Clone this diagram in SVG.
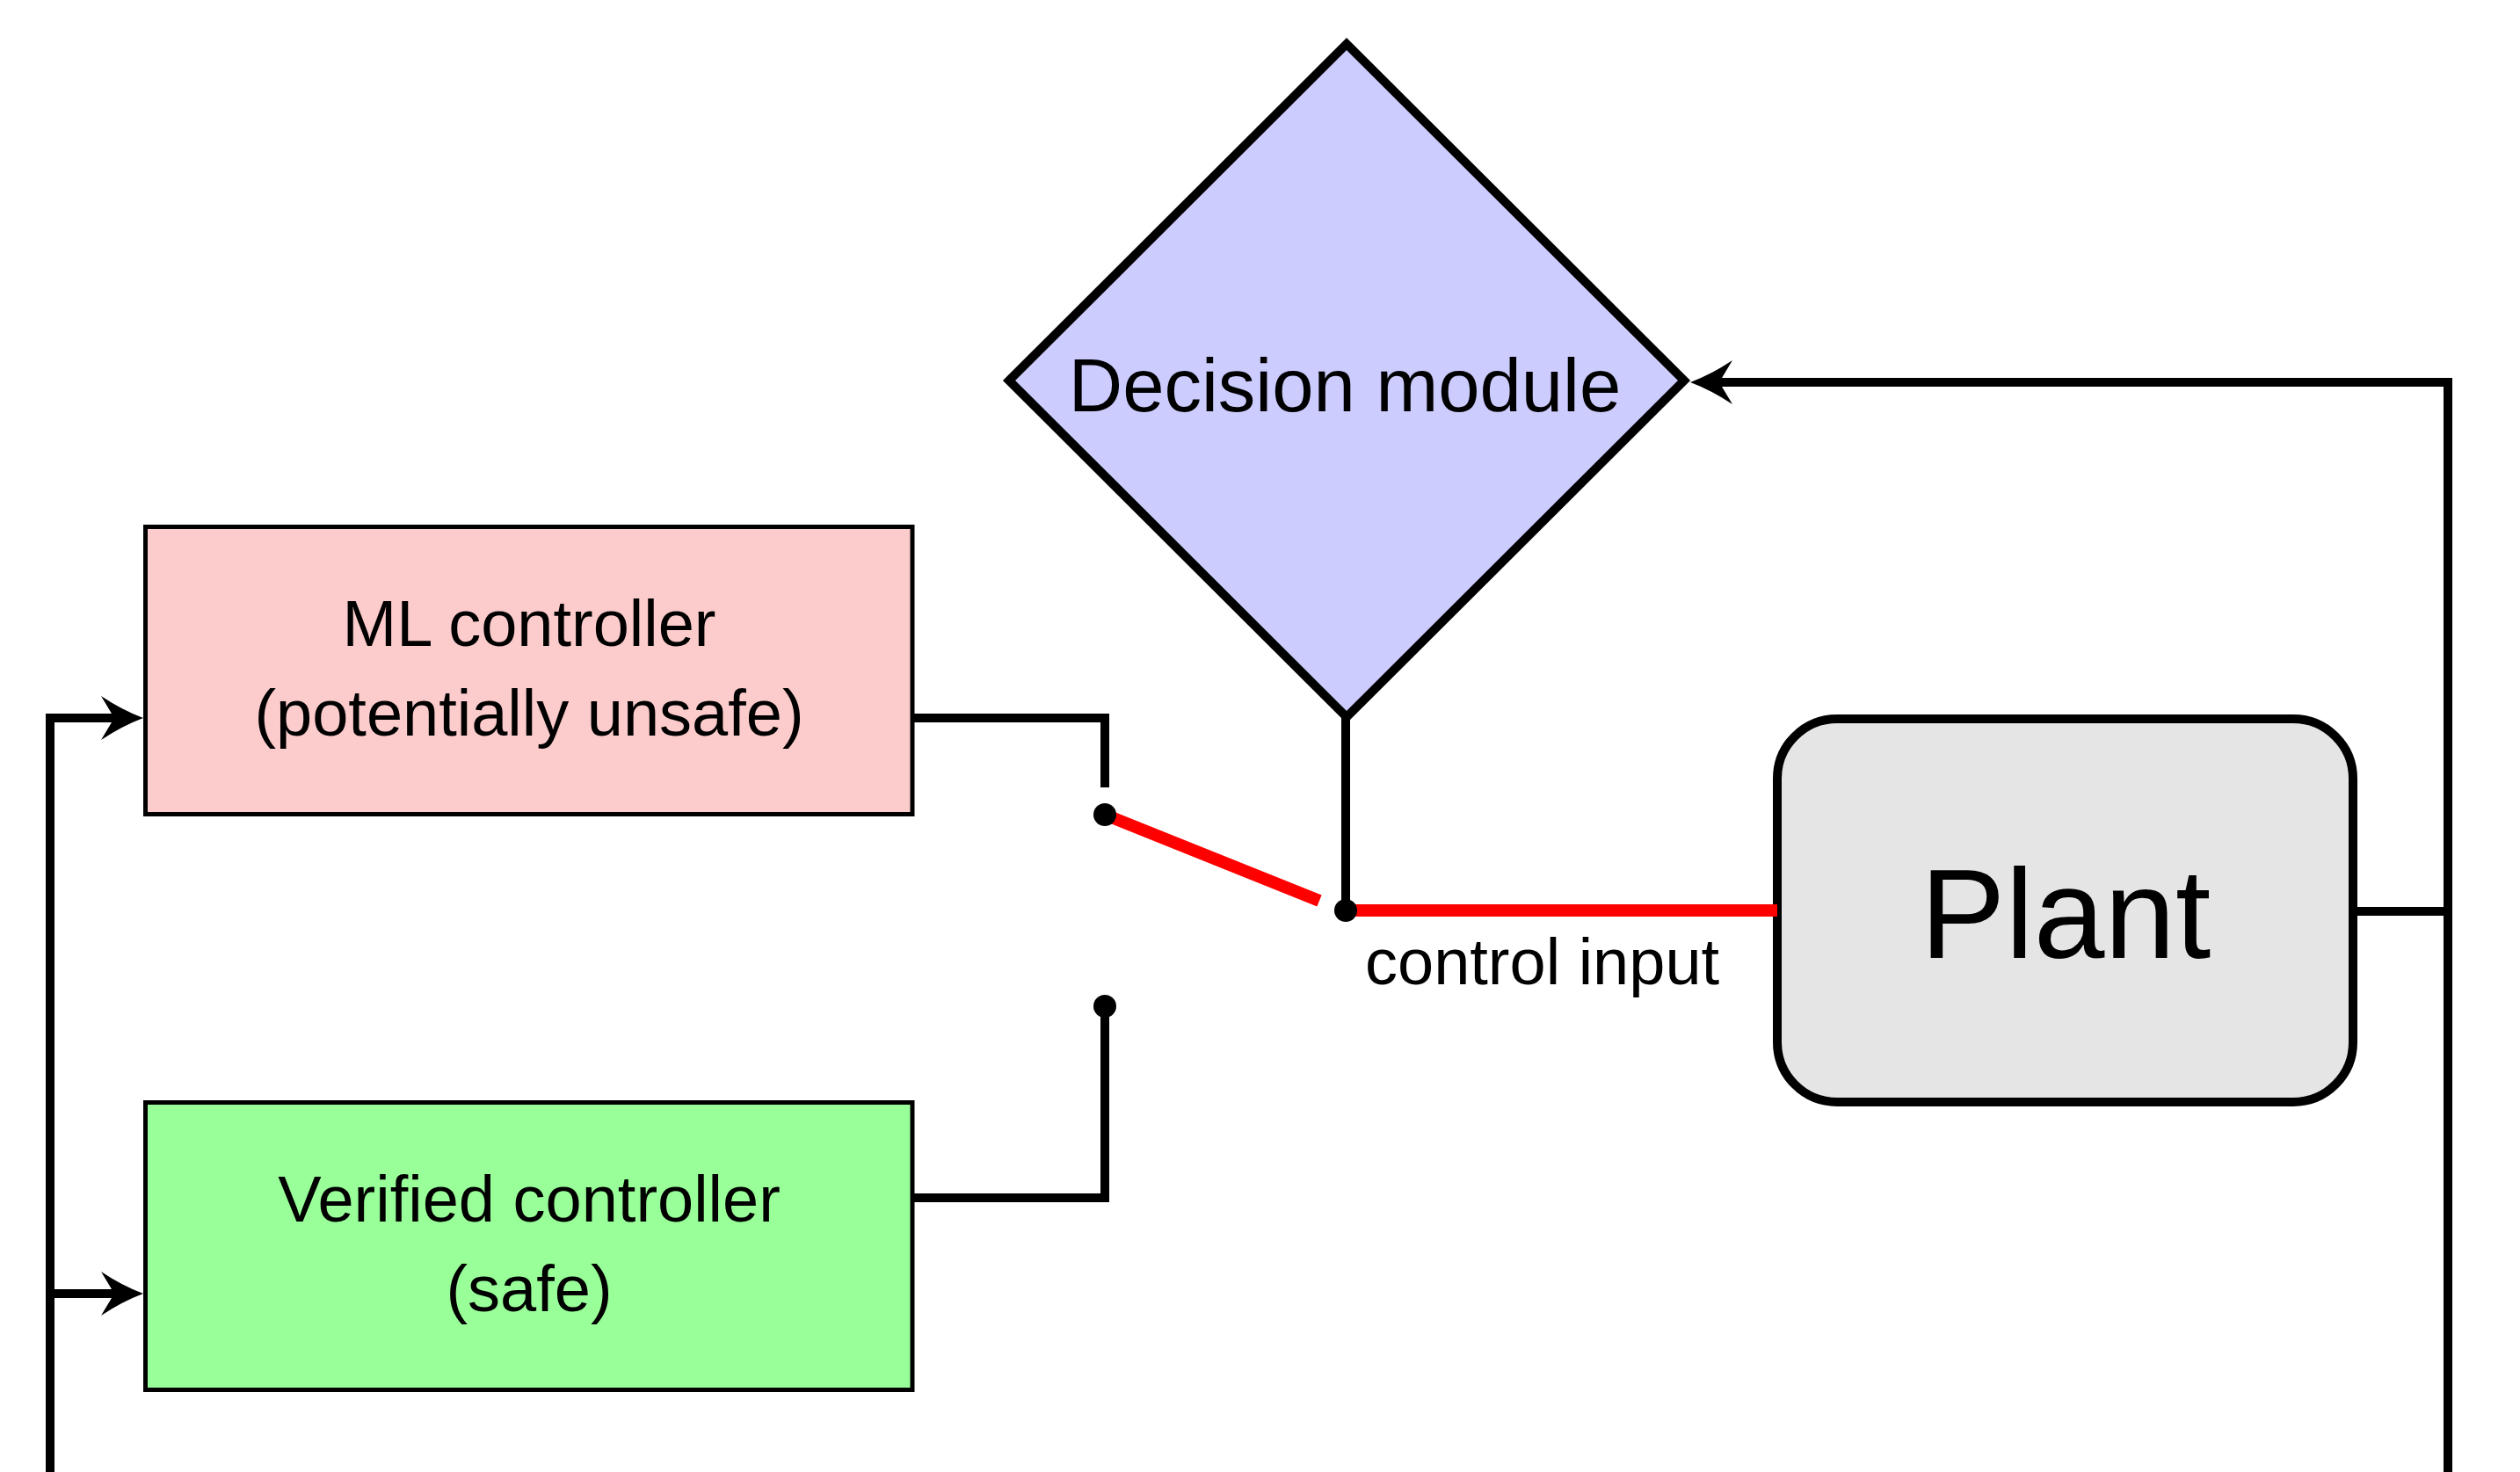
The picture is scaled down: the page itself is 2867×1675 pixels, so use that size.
<svg xmlns="http://www.w3.org/2000/svg" width="2867" height="1675" viewBox="0 0 2867 1675">
  <style>
    .lbl { font-family: "Liberation Sans", Arial, sans-serif; fill: #000; text-anchor: middle; }
    .wire { fill: none; stroke: #000; stroke-width: 10; stroke-linejoin: miter; }
    .red { fill: none; stroke: #ff0000; stroke-width: 14; }
    .box { stroke: #000; stroke-width: 5; }
    .thick { stroke: #000; stroke-width: 10; }
  </style>
  <defs>
    <marker id="arrow" markerUnits="userSpaceOnUse" viewBox="-20 -27 52 54" refX="0" refY="0" markerWidth="52" markerHeight="54" orient="auto">
      <path d="M30,0 Q6,-9 -18,-25 L-3,0 L-18,25 Q6,9 30,0 Z" fill="#000"/>
    </marker>
  </defs>
  <rect width="2867" height="1675" fill="#fff"/>

  <g id="decision">
    <polygon class="thick" points="1532,50 1916,433 1532,816 1148,433" fill="#ccccff"/>
    <text class="lbl" x="1530" y="468" font-size="85">Decision module</text>
  </g>

  <g id="ml-controller">
    <rect class="box" x="165.5" y="599.5" width="872.5" height="327" fill="#fccbcb"/>
    <text class="lbl" x="602" y="735" font-size="74">ML controller</text>
    <text class="lbl" x="602" y="837" font-size="74">(potentially unsafe)</text>
  </g>

  <g id="verified-controller">
    <rect class="box" x="165.5" y="1254.5" width="872.5" height="327" fill="#99ff99"/>
    <text class="lbl" x="602" y="1390" font-size="74">Verified controller</text>
    <text class="lbl" x="602" y="1492" font-size="74">(safe)</text>
  </g>

  <g id="plant">
    <rect class="thick" x="2022" y="818" width="655" height="436" rx="68" ry="68" fill="#e5e5e5"/>
    <text class="lbl" x="2350" y="1090" font-size="145">Plant</text>
  </g>

  <g id="connectors">
    <!-- feedback from plant to decision module -->
    <path class="wire" d="M2677,1037 L2785,1037"/>
    <path class="wire" d="M2785,1675 L2785,435 L1953,435" marker-end="url(#arrow)"/>
    <!-- left feedback into controllers -->
    <path class="wire" d="M57,1675 L57,817 L133,817" marker-end="url(#arrow)"/>
    <path class="wire" d="M57,1472 L133,1472" marker-end="url(#arrow)"/>
    <!-- controller outputs to switch contacts -->
    <path class="wire" d="M1038,817 L1257,817 L1257,896"/>
    <path class="wire" d="M1038,1363 L1257,1363 L1257,1145"/>
    <!-- decision module to switch pivot -->
    <path class="wire" d="M1531,816 L1531,1036"/>
    <!-- switch arm and control input -->
    <path class="red" d="M1257,927 L1501,1025"/>
    <path class="red" d="M1531,1036 L2022,1036"/>
    <circle cx="1257" cy="927" r="13" fill="#000"/>
    <circle cx="1257" cy="1145" r="13" fill="#000"/>
    <circle cx="1531" cy="1036" r="13" fill="#000"/>
    <text class="lbl" x="1553" y="1120" font-size="74" style="text-anchor:start">control input</text>
  </g>
</svg>
